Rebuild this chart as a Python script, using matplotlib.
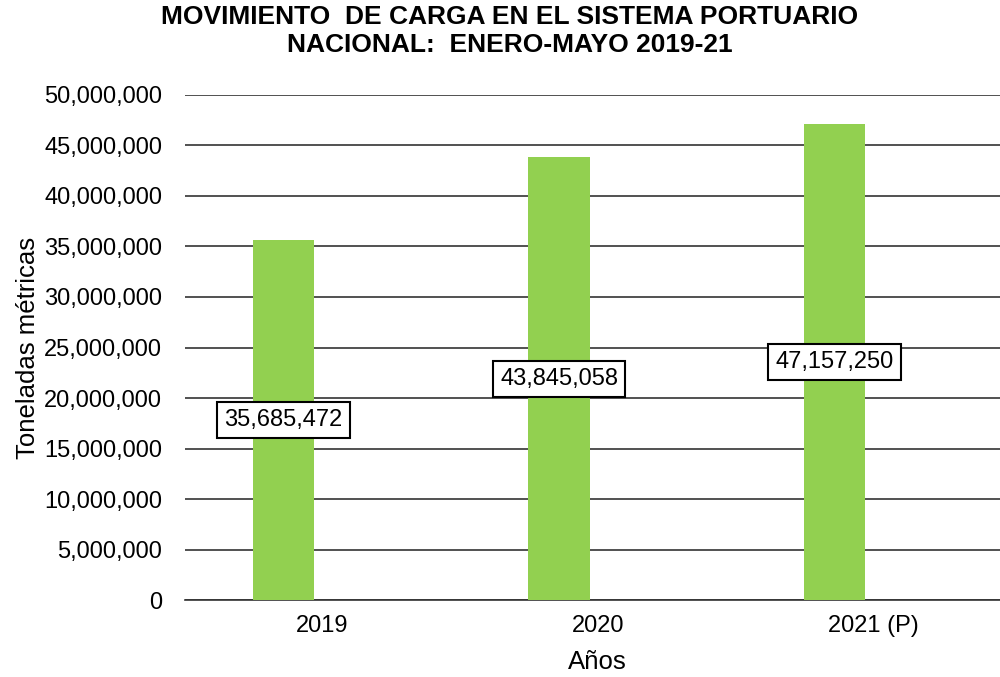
import numpy as np
import matplotlib.pyplot as plt
from matplotlib.ticker import FuncFormatter

plt.rcParams['font.family'] = ['Liberation Sans', 'DejaVu Sans']

# Data
years = ["2019", "2020", "2021 (P)"]
tonnes = [35685472, 43845058, 47157250]

fig = plt.figure(figsize=(10, 6.77), dpi=100)
ax = fig.add_axes([0.1845, 0.1137, 0.8265, 0.746])

x = np.arange(len(years))
ax.bar(x - 0.14, tonnes, width=0.223, color="#92D050", zorder=3)

# data labels in boxes, placed at half height of each bar
for xi, v in zip(x, tonnes):
    ax.text(xi - 0.14, v / 2, f"{v:,}", ha="center", va="center", fontsize=17,
            zorder=4,
            bbox=dict(boxstyle="square,pad=0.3", facecolor="white",
                      edgecolor="black", linewidth=1.5))

ax.set_xlim(-0.5, 2.5)
ax.set_ylim(0, 50000000)
ax.set_yticks(np.arange(0, 50000001, 5000000))
ax.yaxis.set_major_formatter(FuncFormatter(lambda v, p: f"{int(v):,}"))
ax.set_xticks(x)
ax.set_xticklabels(years)
ax.grid(axis="y", color="#333333", linewidth=1.2, zorder=0)
ax.tick_params(axis="y", length=0, pad=16, labelsize=17)
ax.tick_params(axis="x", length=0, pad=11, labelsize=17)
for s in ["top", "right", "left"]:
    ax.spines[s].set_visible(False)
ax.spines["bottom"].set_color("#333333")
ax.spines["bottom"].set_linewidth(1.2)

ax.set_xlabel("Años", fontsize=18.5, labelpad=9)
ax.set_ylabel("Toneladas métricas", fontsize=18.5, labelpad=3)

fig.text(0.51, 0.993, "MOVIMIENTO  DE CARGA EN EL SISTEMA PORTUARIO\nNACIONAL:  ENERO-MAYO 2019-21",
         ha="center", va="top", fontsize=19, fontweight="bold", linespacing=1.25)

fig.savefig("out.png", dpi=100)
